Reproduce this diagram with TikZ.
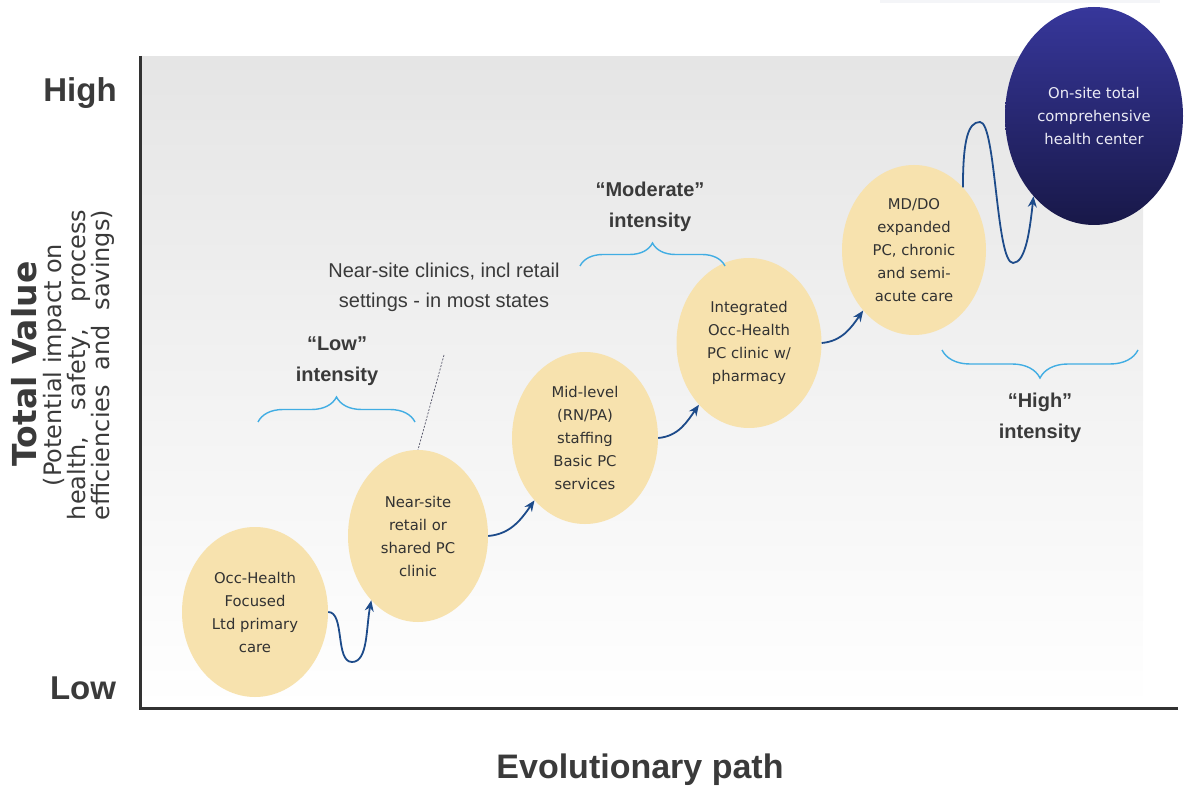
\documentclass[tikz,border=0pt]{standalone}
\usepackage{fontspec}
\setmainfont{Liberation Sans}
\newfontfamily\vfont{DejaVu Sans}
\usetikzlibrary{shapes.geometric,arrows.meta,decorations.pathreplacing}
\definecolor{beige}{RGB}{247,226,174}
\definecolor{txt}{RGB}{58,58,58}
\definecolor{stxt}{RGB}{50,50,50}
\definecolor{arr}{RGB}{29,75,138}
\definecolor{brc}{RGB}{65,173,227}
\definecolor{navytop}{RGB}{55,55,155}
\definecolor{navybot}{RGB}{24,24,72}
\definecolor{axiscol}{RGB}{50,50,50}
\definecolor{bgtop}{RGB}{229,229,229}
\definecolor{strip}{RGB}{244,245,248}
\begin{document}
\begin{tikzpicture}[x=1pt,y=-1pt,
  stage/.style={ellipse, fill=beige, inner sep=0pt, align=center, text=stxt,
    font=\vfont\fontsize{14.8}{23}\selectfont},
  flow/.style={draw=arr, line width=1.8pt, -{Stealth[length=11pt,width=9pt]}},
  bracestyle/.style={draw=brc, line width=1.4pt, decorate},
  lbl/.style={font=\bfseries\fontsize{20}{31}\selectfont, text=txt, align=center},
  axislbl/.style={font=\bfseries\fontsize{33}{33}\selectfont, text=txt, anchor=base},
]
\useasboundingbox (0,0) rectangle (1184,791);
\fill[strip] (880,0) rectangle (1160,3);
% background panel
\shade[top color=bgtop, bottom color=white] (140,57) rectangle (1143,708);
% axes
\draw[axiscol, line width=3pt] (140,56) -- (140,708) -- (1178,708);

% axis labels
\node[axislbl] (high) at (80,102) {High};
\node[axislbl] (low) at (83,699) {Low};
\node[font=\bfseries\fontsize{34}{34}\selectfont, text=txt, anchor=base] (evo) at (640,778) {Evolutionary path};
\node[font=\vfont\bfseries\fontsize{33}{33}\selectfont, text=txt, rotate=90] (tv) at (24,364) {Total Value};
\node[font=\vfont\fontsize{24}{23}\selectfont, text=txt, rotate=90, align=center] (sub) at (79,365)
  {(Potential impact on\\\makebox[310pt][s]{health, safety, process}\\\makebox[310pt][s]{efficiencies and savings)}};

% stages
\node[stage, minimum width=146, minimum height=170] (e1) at (255,612) {Occ-Health\\Focused\\Ltd primary\\care};
\node[stage, minimum width=140, minimum height=172] (e2) at (418,536) {Near-site\\retail or\\shared PC\\clinic};
\node[stage, minimum width=146, minimum height=172] (e3) at (585,438) {Mid-level\\(RN/PA)\\staffing\\Basic PC\\services};
\node[stage, minimum width=145, minimum height=170] (e4) at (749,343) {Integrated\\Occ-Health\\PC clinic w/\\pharmacy};
\node[stage, minimum width=144, minimum height=170] (e5) at (914,250) {MD/DO\\expanded\\PC, chronic\\and semi-\\acute care};
\node[stage, minimum width=178, minimum height=218, fill=none, top color=navytop, bottom color=navybot,
  text={rgb,255:red,235;green,235;blue,245}] (e6) at (1094,116) {On-site total\\comprehensive\\health center};

% connectors
\draw[flow] (e1.east) .. controls (345,612) and (335,662) .. (352,662)
  .. controls (368,662) and (366,628) .. (e2.234);
\draw[flow] (e2.east) to[out=5,in=235] (e3.231);
\draw[flow] (e3.east) to[out=5,in=235] (e4.231);
\draw[flow] (e4.east) to[out=5,in=235] (e5.230);
\draw[flow] (e5.52) .. controls (963,140) and (968,122) .. (980,122)
  .. controls (996,122) and (996,263) .. (1013,263)
  .. controls (1026,263) and (1030,228) .. (e6.233);

% braces
\coordinate (lowA) at (258,422);
\coordinate (lowB) at (415,422);
\coordinate (modA) at (580,266);
\coordinate (modB) at (725,266);
\coordinate (hiA) at (942,350);
\coordinate (hiB) at (1138,350);
\draw[bracestyle, decoration={brace, amplitude=25pt}] (lowA) -- (lowB);
\draw[bracestyle, decoration={brace, amplitude=23pt}] (modA) -- (modB);
\draw[bracestyle, decoration={brace, amplitude=28pt}] (hiB) -- (hiA);

% intensity labels
\node[lbl] (lowlbl) at (337,361) {“Low”\\intensity};
\node[lbl] (modlbl) at (650,207) {“Moderate”\\intensity};
\node[lbl] (hilbl) at (1040,418) {“High”\\intensity};

% near-site note
\node[font=\fontsize{20}{30}\selectfont, text=txt, align=center] (note) at (444,287)
  {Near-site clinics, incl retail\\settings - in most states};
\coordinate (noteend) at (444,355);
\draw[dashed, draw={rgb,255:red,80;green,80;blue,100}, line width=0.7pt, dash pattern=on 2pt off 1.5pt] (noteend) -- (e2.north);
\end{tikzpicture}
\end{document}
